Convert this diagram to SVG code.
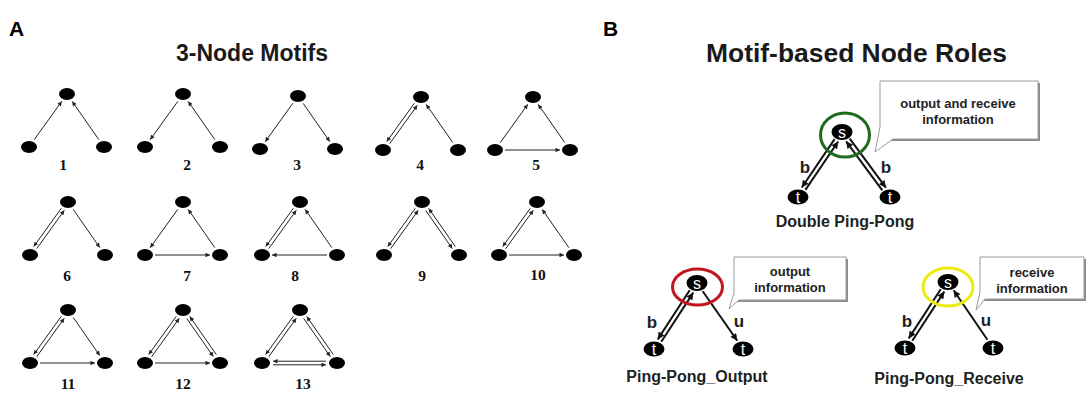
<svg xmlns="http://www.w3.org/2000/svg" xmlns:xlink="http://www.w3.org/1999/xlink" width="1087" height="399" viewBox="0 0 1087 399">
<style>
  .panel { font-family: "Liberation Sans", Arial, sans-serif; font-weight: bold; fill: #000; }
  .title { font-family: "Liberation Sans", Arial, sans-serif; font-weight: bold; fill: #1a1a1a; text-anchor: middle; }
  .num { font-family: "Liberation Serif", "Times New Roman", serif; font-weight: bold; font-size: 15.5px; fill: #111; text-anchor: middle; }
  .dot { fill: #000; }
  .e { stroke: #222; stroke-width: 1; fill: none; marker-end: url(#ah); }
  .E { stroke: #111; stroke-width: 2; fill: none; marker-end: url(#AH); }
  .nl { font-family: "Liberation Sans", Arial, sans-serif; font-size: 16px; fill: #fff; text-anchor: middle; }
  .el { font-family: "Liberation Sans", Arial, sans-serif; font-weight: bold; font-size: 17px; fill: #222; text-anchor: middle; }
  .cap { font-family: "Liberation Sans", Arial, sans-serif; font-weight: bold; font-size: 16px; fill: #222; text-anchor: middle; }
  .note { font-family: "Liberation Sans", Arial, sans-serif; font-weight: bold; font-size: 13px; fill: #222; text-anchor: middle; }
  .box { fill: #fff; stroke: #9a9a9a; stroke-width: 1; }
  .shadow { fill: #8c8c8c; }
</style>
<defs>
  <marker id="ah" viewBox="0 0 10 10" refX="10" refY="5" markerWidth="6" markerHeight="4.5" markerUnits="userSpaceOnUse" orient="auto">
    <path d="M0,0 L10,5 L0,10 z" fill="#222"/>
  </marker>
  <marker id="AH" viewBox="0 0 10 10" refX="10" refY="5" markerWidth="9" markerHeight="7" markerUnits="userSpaceOnUse" orient="auto">
    <path d="M0,0 L10,5 L0,10 z" fill="#111"/>
  </marker>
  <!-- edge templates, relative to the top node; left node at (-38,53), right node at (37,53) -->
  <line id="t-l" class="e" x1="-5.2" y1="7.3" x2="-32.8" y2="45.7"/>
  <line id="l-t" class="e" x1="-32.8" y1="45.7" x2="-5.2" y2="7.3"/>
  <line id="t-r" class="e" x1="5.2" y1="7.4" x2="31.8" y2="45.6"/>
  <line id="r-t" class="e" x1="31.8" y1="45.6" x2="5.2" y2="7.4"/>
  <line id="l-r" class="e" x1="-28" y1="53" x2="27" y2="53"/>
  <line id="r-l" class="e" x1="27" y1="53" x2="-28" y2="53"/>
  <g id="tl2">
    <line class="e" x1="-6.7" y1="6.3" x2="-34.3" y2="44.6"/>
    <line class="e" x1="-31.3" y1="46.7" x2="-3.7" y2="8.3"/>
  </g>
  <g id="tr2">
    <line class="e" x1="33.3" y1="44.6" x2="6.7" y2="6.4"/>
    <line class="e" x1="3.7" y1="8.4" x2="30.3" y2="46.6"/>
  </g>
  <g id="lr2">
    <line class="e" x1="26" y1="51.2" x2="-27" y2="51.2"/>
    <line class="e" x1="-27" y1="54.8" x2="26" y2="54.8"/>
  </g>
</defs>

<rect width="1087" height="399" fill="#fff"/>

<!-- headings -->
<text class="panel" x="9" y="36" font-size="21">A</text>
<text class="title" x="252" y="61" font-size="23" textLength="152" lengthAdjust="spacingAndGlyphs">3-Node Motifs</text>
<text class="panel" x="603" y="36" font-size="21">B</text>
<text class="title" x="856.5" y="62" font-size="26" textLength="301" lengthAdjust="spacingAndGlyphs">Motif-based Node Roles</text>

<!-- connectors -->
<g id="connectors">
  <g transform="translate(67,94)"><use xlink:href="#l-t"/><use xlink:href="#r-t"/></g>
  <g transform="translate(183,94)"><use xlink:href="#t-l"/><use xlink:href="#r-t"/></g>
  <g transform="translate(298,96)"><use xlink:href="#t-l"/><use xlink:href="#t-r"/></g>
  <g transform="translate(421,97)"><use xlink:href="#tl2"/><use xlink:href="#r-t"/></g>
  <g transform="translate(533,97)"><use xlink:href="#l-t"/><use xlink:href="#r-t"/><use xlink:href="#l-r"/></g>
  <g transform="translate(68,202)"><use xlink:href="#tl2"/><use xlink:href="#t-r"/></g>
  <g transform="translate(183,202)"><use xlink:href="#t-l"/><use xlink:href="#r-t"/><use xlink:href="#l-r"/></g>
  <g transform="translate(300,202)"><use xlink:href="#tl2"/><use xlink:href="#r-t"/><use xlink:href="#r-l"/></g>
  <g transform="translate(422,202)"><use xlink:href="#tl2"/><use xlink:href="#tr2"/></g>
  <g transform="translate(537,202)"><use xlink:href="#tl2"/><use xlink:href="#r-t"/><use xlink:href="#l-r"/></g>
  <g transform="translate(68,310)"><use xlink:href="#tl2"/><use xlink:href="#t-r"/><use xlink:href="#l-r"/></g>
  <g transform="translate(183,310)"><use xlink:href="#tl2"/><use xlink:href="#tr2"/><use xlink:href="#l-r"/></g>
  <g transform="translate(300,310)"><use xlink:href="#tl2"/><use xlink:href="#tr2"/><use xlink:href="#lr2"/></g>

  <!-- role motifs -->
  <line class="E" x1="834.6" y1="139.1" x2="801.8" y2="187.5"/>
  <line class="E" x1="805.4" y1="189.9" x2="838.2" y2="141.5"/>
  <line class="E" x1="882.3" y1="190.3" x2="846.1" y2="141.3"/>
  <line class="E" x1="849.7" y1="138.7" x2="885.9" y2="187.7"/>

  <line class="E" x1="689.7" y1="290.2" x2="657.7" y2="339.4"/>
  <line class="E" x1="661.3" y1="341.8" x2="693.3" y2="292.6"/>
  <line class="E" x1="702.7" y1="291.2" x2="737.3" y2="340.8"/>

  <line class="E" x1="940.7" y1="289.2" x2="908.7" y2="338.4"/>
  <line class="E" x1="912.3" y1="340.8" x2="944.3" y2="291.6"/>
  <line class="E" x1="987.4" y1="339.7" x2="953.6" y2="290.3"/>
</g>

<!-- 3-node motifs -->
<g id="motif-1" transform="translate(67,94)">
  <ellipse id="m1-top" class="dot" cx="0" cy="0" rx="8" ry="6"/>
  <ellipse id="m1-left" class="dot" cx="-38" cy="53" rx="8" ry="6"/>
  <ellipse id="m1-right" class="dot" cx="37" cy="53" rx="8" ry="6"/>
  <text class="num" x="-4" y="76">1</text>
</g>
<g id="motif-2" transform="translate(183,94)">
  <ellipse id="m2-top" class="dot" cx="0" cy="0" rx="8" ry="6"/>
  <ellipse id="m2-left" class="dot" cx="-38" cy="53" rx="8" ry="6"/>
  <ellipse id="m2-right" class="dot" cx="37" cy="53" rx="8" ry="6"/>
  <text class="num" x="4" y="76">2</text>
</g>
<g id="motif-3" transform="translate(298,96)">
  <ellipse id="m3-top" class="dot" cx="0" cy="0" rx="8" ry="6"/>
  <ellipse id="m3-left" class="dot" cx="-38" cy="53" rx="8" ry="6"/>
  <ellipse id="m3-right" class="dot" cx="37" cy="53" rx="8" ry="6"/>
  <text class="num" x="-1" y="74">3</text>
</g>
<g id="motif-4" transform="translate(421,97)">
  <ellipse id="m4-top" class="dot" cx="0" cy="0" rx="8" ry="6"/>
  <ellipse id="m4-left" class="dot" cx="-38" cy="53" rx="8" ry="6"/>
  <ellipse id="m4-right" class="dot" cx="37" cy="53" rx="8" ry="6"/>
  <text class="num" x="-1" y="73">4</text>
</g>
<g id="motif-5" transform="translate(533,97)">
  <ellipse id="m5-top" class="dot" cx="0" cy="0" rx="8" ry="6"/>
  <ellipse id="m5-left" class="dot" cx="-38" cy="53" rx="8" ry="6"/>
  <ellipse id="m5-right" class="dot" cx="37" cy="53" rx="8" ry="6"/>
  <text class="num" x="3" y="73">5</text>
</g>
<g id="motif-6" transform="translate(68,202)">
  <ellipse id="m6-top" class="dot" cx="0" cy="0" rx="8" ry="6"/>
  <ellipse id="m6-left" class="dot" cx="-38" cy="53" rx="8" ry="6"/>
  <ellipse id="m6-right" class="dot" cx="37" cy="53" rx="8" ry="6"/>
  <text class="num" x="-1" y="79">6</text>
</g>
<g id="motif-7" transform="translate(183,202)">
  <ellipse id="m7-top" class="dot" cx="0" cy="0" rx="8" ry="6"/>
  <ellipse id="m7-left" class="dot" cx="-38" cy="53" rx="8" ry="6"/>
  <ellipse id="m7-right" class="dot" cx="37" cy="53" rx="8" ry="6"/>
  <text class="num" x="4" y="79">7</text>
</g>
<g id="motif-8" transform="translate(300,202)">
  <ellipse id="m8-top" class="dot" cx="0" cy="0" rx="8" ry="6"/>
  <ellipse id="m8-left" class="dot" cx="-38" cy="53" rx="8" ry="6"/>
  <ellipse id="m8-right" class="dot" cx="37" cy="53" rx="8" ry="6"/>
  <text class="num" x="-5" y="79">8</text>
</g>
<g id="motif-9" transform="translate(422,202)">
  <ellipse id="m9-top" class="dot" cx="0" cy="0" rx="8" ry="6"/>
  <ellipse id="m9-left" class="dot" cx="-38" cy="53" rx="8" ry="6"/>
  <ellipse id="m9-right" class="dot" cx="37" cy="53" rx="8" ry="6"/>
  <text class="num" x="0" y="79">9</text>
</g>
<g id="motif-10" transform="translate(537,202)">
  <ellipse id="m10-top" class="dot" cx="0" cy="0" rx="8" ry="6"/>
  <ellipse id="m10-left" class="dot" cx="-38" cy="53" rx="8" ry="6"/>
  <ellipse id="m10-right" class="dot" cx="37" cy="53" rx="8" ry="6"/>
  <text class="num" x="1" y="78">10</text>
</g>
<g id="motif-11" transform="translate(68,310)">
  <ellipse id="m11-top" class="dot" cx="0" cy="0" rx="8" ry="6"/>
  <ellipse id="m11-left" class="dot" cx="-38" cy="53" rx="8" ry="6"/>
  <ellipse id="m11-right" class="dot" cx="37" cy="53" rx="8" ry="6"/>
  <text class="num" x="0" y="79">11</text>
</g>
<g id="motif-12" transform="translate(183,310)">
  <ellipse id="m12-top" class="dot" cx="0" cy="0" rx="8" ry="6"/>
  <ellipse id="m12-left" class="dot" cx="-38" cy="53" rx="8" ry="6"/>
  <ellipse id="m12-right" class="dot" cx="37" cy="53" rx="8" ry="6"/>
  <text class="num" x="0" y="79">12</text>
</g>
<g id="motif-13" transform="translate(300,310)">
  <ellipse id="m13-top" class="dot" cx="0" cy="0" rx="8" ry="6"/>
  <ellipse id="m13-left" class="dot" cx="-38" cy="53" rx="8" ry="6"/>
  <ellipse id="m13-right" class="dot" cx="37" cy="53" rx="8" ry="6"/>
  <text class="num" x="3" y="79">13</text>
</g>

<!-- Double Ping-Pong -->
<g id="dpp-s">
  <ellipse cx="845" cy="135" rx="24.5" ry="22" fill="none" stroke="#1e6a1e" stroke-width="3"/>
  <ellipse class="dot" cx="842" cy="132" rx="10.5" ry="8"/>
  <text class="nl" x="842" y="137.5">s</text>
</g>
<g id="dpp-t1">
  <ellipse class="dot" cx="798" cy="197" rx="10.5" ry="7.5"/>
  <text class="nl" x="798" y="202.5">t</text>
</g>
<g id="dpp-t2">
  <ellipse class="dot" cx="890" cy="197" rx="10.5" ry="7.5"/>
  <text class="nl" x="890" y="202.5">t</text>
</g>
<g id="dpp-labels">
  <text class="el" x="805" y="173">b</text>
  <text class="el" x="886" y="173">b</text>
  <text class="cap" x="845" y="227">Double Ping-Pong</text>
</g>
<g id="dpp-note">
  <rect class="shadow" x="882" y="83" width="158" height="58"/>
  <path class="box" d="M880,81 H1038 V139 H893 L875,152 L880,127 Z"/>
  <text class="note" x="958" y="108">output and receive</text>
  <text class="note" x="958" y="124">information</text>
</g>

<!-- Ping-Pong_Output -->
<g id="ppo-s">
  <ellipse cx="697.5" cy="287" rx="25" ry="18" fill="none" stroke="#c0161c" stroke-width="3"/>
  <ellipse class="dot" cx="697" cy="283" rx="10.5" ry="8"/>
  <text class="nl" x="697" y="288.5">s</text>
</g>
<g id="ppo-t1">
  <ellipse class="dot" cx="654" cy="349" rx="10.5" ry="7.5"/>
  <text class="nl" x="654" y="354.5">t</text>
</g>
<g id="ppo-t2">
  <ellipse class="dot" cx="743" cy="349" rx="10.5" ry="7.5"/>
  <text class="nl" x="743" y="354.5">t</text>
</g>
<g id="ppo-labels">
  <text class="el" x="652" y="328">b</text>
  <text class="el" x="739" y="327">u</text>
  <text class="cap" x="697" y="382">Ping-Pong_Output</text>
</g>
<g id="ppo-note">
  <rect class="shadow" x="736" y="259" width="112" height="43"/>
  <path class="box" d="M734,257 H846 V300 H739 L729,309 L734,293 Z"/>
  <text class="note" x="790" y="276">output</text>
  <text class="note" x="790" y="292">information</text>
</g>

<!-- Ping-Pong_Receive -->
<g id="ppr-s">
  <ellipse cx="948" cy="287" rx="25" ry="19" fill="none" stroke="#ecea10" stroke-width="3"/>
  <ellipse class="dot" cx="948" cy="282" rx="10.5" ry="8"/>
  <text class="nl" x="948" y="287.5">s</text>
</g>
<g id="ppr-t1">
  <ellipse class="dot" cx="905" cy="348" rx="10.5" ry="7.5"/>
  <text class="nl" x="905" y="353.5">t</text>
</g>
<g id="ppr-t2">
  <ellipse class="dot" cx="993" cy="348" rx="10.5" ry="7.5"/>
  <text class="nl" x="993" y="353.5">t</text>
</g>
<g id="ppr-labels">
  <text class="el" x="907" y="327">b</text>
  <text class="el" x="986" y="326">u</text>
  <text class="cap" x="949" y="384">Ping-Pong_Receive</text>
</g>
<g id="ppr-note">
  <rect class="shadow" x="982" y="259" width="104" height="42"/>
  <path class="box" d="M980,257 H1084 V299 H985 L976,310 L980,292 Z"/>
  <text class="note" x="1032" y="277">receive</text>
  <text class="note" x="1032" y="293">information</text>
</g>
</svg>
